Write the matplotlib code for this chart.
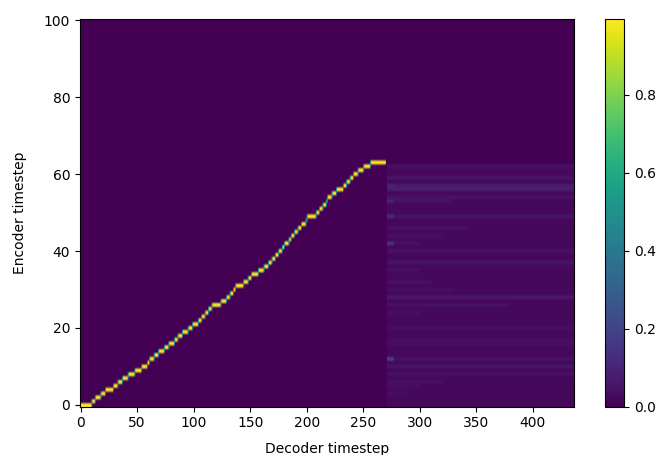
import numpy as np
import matplotlib
matplotlib.use('Agg')
import matplotlib.pyplot as plt

n_dec = 437
n_enc = 101

# decoder step where each encoder index (0..63) takes over the attention
path_start = [0, 10, 13, 18, 22, 29, 33, 37, 42, 48, 54, 59, 61, 65, 69, 74,
              78, 83, 86, 90, 95, 99, 104, 107, 110, 113, 116, 124, 129, 132, 135, 137,
              144, 148, 151, 157, 162, 166, 169, 172, 175, 178, 180, 184, 186, 189, 192, 195,
              199, 200, 208, 211, 214, 217, 218, 222, 226, 232, 235, 238, 241, 245, 250, 256]
path_end = 270

# faint horizontal bands after the alignment stops
tail_start = 271
tail_rows = 63
tail_base = 0.02
band_rows = [62, 59, 57, 56, 54, 53, 49, 46, 44, 42, 40, 37, 35, 32,
             30, 28, 26, 24, 20, 17, 16, 12, 10, 8, 6, 5, 3]
band_level = [0.04, 0.055, 0.07, 0.08, 0.05, 0.045, 0.055, 0.05, 0.04, 0.045, 0.05, 0.055, 0.04, 0.045,
              0.035, 0.065, 0.045, 0.04, 0.035, 0.035, 0.035, 0.05, 0.055, 0.045, 0.04, 0.035, 0.035]
band_stop = [437, 437, 437, 437, 437, 330, 437, 342, 320, 300, 437, 437, 300, 310,
             330, 437, 380, 300, 437, 437, 437, 437, 437, 437, 320, 300, 290]
spot_rows = [57, 53, 49, 42, 12]
spot_level = [0.1, 0.1, 0.12, 0.15, 0.2]

align = np.zeros((n_enc, n_dec))
ends = path_start[1:] + [path_end]
for e, (s, t) in enumerate(zip(path_start, ends)):
    align[e, s:t] = 0.99
    if e > 0:
        # split column at each step
        align[e, s] = 0.55
        align[e - 1, s] = 0.4

align[:tail_rows, tail_start:] = tail_base
for r, v, t in zip(band_rows, band_level, band_stop):
    align[r, tail_start:t] = v
for r, v in zip(spot_rows, spot_level):
    align[r, tail_start:tail_start + 6] = v

fig = plt.figure(figsize=(6.64, 4.55), dpi=100)
ax = fig.add_axes([0.1205, 0.1062, 0.744, 0.8531])
cax = fig.add_axes([0.9107, 0.1062, 0.0295, 0.8531])
im = ax.imshow(align, aspect='auto', origin='lower', vmin=0, vmax=0.995)
fig.colorbar(im, cax=cax)
ax.set_xlabel('Decoder timestep', labelpad=8)
ax.set_ylabel('Encoder timestep', labelpad=12)
fig.savefig('out.png', dpi=100)
